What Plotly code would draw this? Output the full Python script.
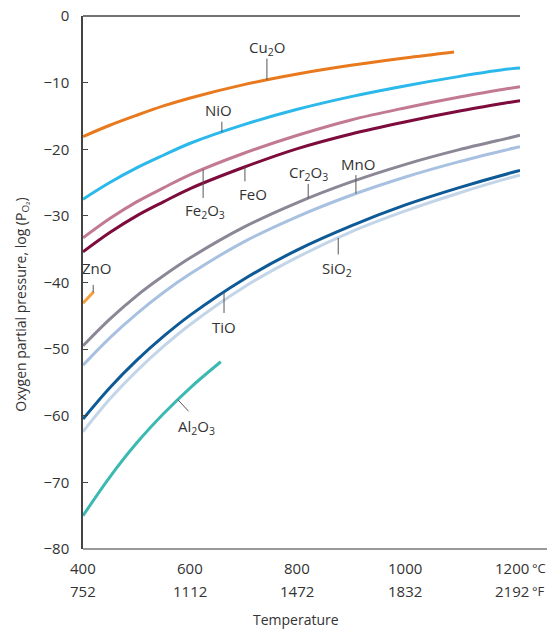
import numpy as np
import plotly.graph_objects as go

# ---------------- data ----------------
T_MAIN = [400, 450, 500, 550, 600, 700, 800, 900, 1000, 1100, 1200, 1215]
CU2O_T = [400, 450, 500, 550, 600, 700, 800, 900, 1000, 1092]
CU2O = [-18.1, -16.4, -14.9, -13.5, -12.3, -10.3, -8.7, -7.4, -6.3, -5.4]
NIO = [-27.5, -25.0, -22.8, -20.9, -19.1, -16.3, -14.0, -12.1, -10.5, -9.1, -7.9, -7.8]
FE2O3 = [-33.3, -30.4, -27.9, -25.8, -23.8, -20.6, -17.9, -15.6, -13.8, -12.2, -10.8, -10.6]
FEO = [-35.4, -32.5, -30.0, -27.9, -25.9, -22.7, -19.9, -17.7, -15.9, -14.3, -12.9, -12.7]
CR2O3 = [-49.5, -45.5, -42.0, -39.0, -36.3, -31.7, -28.0, -24.9, -22.3, -20.1, -18.2, -17.9]
MNO = [-52.4, -48.3, -44.7, -41.5, -38.7, -33.9, -30.1, -26.9, -24.2, -21.9, -19.9, -19.6]
TIO = [-60.5, -55.8, -51.7, -48.1, -44.9, -39.5, -35.1, -31.5, -28.4, -25.8, -23.5, -23.2]
SIO2 = [-62.4, -57.5, -53.3, -49.6, -46.3, -40.7, -36.2, -32.4, -29.3, -26.6, -24.2, -23.9]
ZNO_T = [400, 420]
ZNO = [-43.1, -41.4]
AL2O3_T = [400, 450, 500, 550, 600, 657]
AL2O3 = [-75.0, -69.2, -64.1, -59.7, -55.8, -51.9]

C_TICKS = [400, 600, 800, 1000, 1200]
F_TICKS = [752, 1112, 1472, 1832, 2192]
Y_TICKS = [0, -10, -20, -30, -40, -50, -60, -70, -80]

FONT = "Open Sans"
TXT = "#333333"

series = [
    ("Cu<sub>2</sub>O", CU2O_T, CU2O, "#E8791D"),
    ("NiO", T_MAIN, NIO, "#2BB8EA"),
    ("Fe<sub>2</sub>O<sub>3</sub>", T_MAIN, FE2O3, "#C27A93"),
    ("FeO", T_MAIN, FEO, "#7D0B3C"),
    ("Cr<sub>2</sub>O<sub>3</sub>", T_MAIN, CR2O3, "#8C8796"),
    ("MnO", T_MAIN, MNO, "#A9C1E0"),
    ("TiO", T_MAIN, TIO, "#0E5A97"),
    ("SiO<sub>2</sub>", T_MAIN, SIO2, "#C3D5E8"),
    ("ZnO", ZNO_T, ZNO, "#F5A03C"),
    ("Al<sub>2</sub>O<sub>3</sub>", AL2O3_T, AL2O3, "#3CB9B2"),
]

fig = go.Figure()
for name, xs, ys, col in series:
    fig.add_trace(go.Scatter(x=xs, y=ys, mode="lines", name=name,
                             line=dict(color=col, width=3, shape="spline", smoothing=1.0),
                             showlegend=False, hoverinfo="skip"))

# label specs: name, temperature of leader, arrow dx, arrow dy, text dx, text dy
labels = [
    ("Cu<sub>2</sub>O", 743, 0, -23, 0, -32),
    ("NiO", 659, 0, -12, -3, -22),
    ("Fe<sub>2</sub>O<sub>3</sub>", 624, 0, 30, 2, 42),
    ("FeO", 702, 0, 16, 8, 27),
    ("Cr<sub>2</sub>O<sub>3</sub>", 820, 0, -16, 0, -25),
    ("MnO", 909, 0, -20, 2, -30),
    ("SiO<sub>2</sub>", 876, 0, 18, -1, 31),
    ("TiO", 663, 0, 22, 0, 35),
    ("ZnO", 419, 0, -9, 3, -24),
    ("Al<sub>2</sub>O<sub>3</sub>", 577, 12, 13, 19, 27),
]
lookup = {s[0]: s for s in series}
for name, t, adx, ady, tdx, tdy in labels:
    _, xs, ys, _ = lookup[name]
    yv = float(np.interp(t, xs, ys))
    fig.add_annotation(x=t, y=yv, text="", showarrow=True, arrowhead=0,
                       arrowwidth=1, arrowcolor="#555555", ax=adx, ay=ady, standoff=0)
    fig.add_annotation(x=t, y=yv, text=name, showarrow=False, xshift=tdx, yshift=-tdy,
                       xanchor="center", yanchor="middle",
                       font=dict(family=FONT, size=15, color=TXT))

# two-row temperature labels
for c, f in zip(C_TICKS, F_TICKS):
    fig.add_annotation(x=c, y=0, xref="x", yref="paper", text=str(c), showarrow=False,
                       xanchor="center", yanchor="middle",
                       yshift=-19, font=dict(family=FONT, size=15, color=TXT))
    fig.add_annotation(x=c, y=0, xref="x", yref="paper", text=str(f), showarrow=False,
                       xanchor="center", yanchor="middle",
                       yshift=-42, font=dict(family=FONT, size=15, color=TXT))
fig.add_annotation(x=1.024, y=0, xref="paper", yref="paper", text="°C", showarrow=False,
                   xanchor="left", yanchor="middle", yshift=-19,
                   font=dict(family=FONT, size=13, color=TXT))
fig.add_annotation(x=1.024, y=0, xref="paper", yref="paper", text="°F", showarrow=False,
                   xanchor="left", yanchor="middle", yshift=-42,
                   font=dict(family=FONT, size=13, color=TXT))
fig.add_annotation(x=0.487, y=0, xref="paper", yref="paper", text="Temperature", showarrow=False,
                   xanchor="center", yanchor="middle",
                   yshift=-70, font=dict(family=FONT, size=14, color=TXT))
fig.add_annotation(x=-0.14, y=0.458, xref="paper", yref="paper",
                   text="Oxygen partial pressure, log (P<sub>O₂</sub>)", textangle=-90,
                   xanchor="center", yanchor="middle",
                   showarrow=False, font=dict(family=FONT, size=14, color=TXT))

fig.add_shape(type="line", xref="paper", yref="paper", x0=0, x1=1, y0=1, y1=1,
              line=dict(color="#444444", width=1.5))
fig.add_shape(type="line", xref="paper", yref="paper", x0=0, x1=1.08, y0=0, y1=0,
              line=dict(color="#777777", width=1.5))

# the page adds an 8px body margin, so the figure is 8px smaller and margins shifted
fig.update_layout(
    width=547, height=621,
    margin=dict(l=75, r=35, t=8, b=80, autoexpand=False),
    paper_bgcolor="white", plot_bgcolor="white",
    xaxis=dict(range=[400, 1215], showgrid=False, zeroline=False, showline=False,
               showticklabels=False, ticks="", automargin=False),
    yaxis=dict(range=[-80, 0], showgrid=False, zeroline=False, showline=True,
               linecolor="#444444", linewidth=1.5, ticks="inside", ticklen=5,
               tickcolor="#444444", tickvals=Y_TICKS, ticklabelstandoff=9,
               ticklabeloverflow="allow", automargin=False,
               tickfont=dict(family=FONT, size=15, color=TXT)),
)

fig.write_html("out.html")
